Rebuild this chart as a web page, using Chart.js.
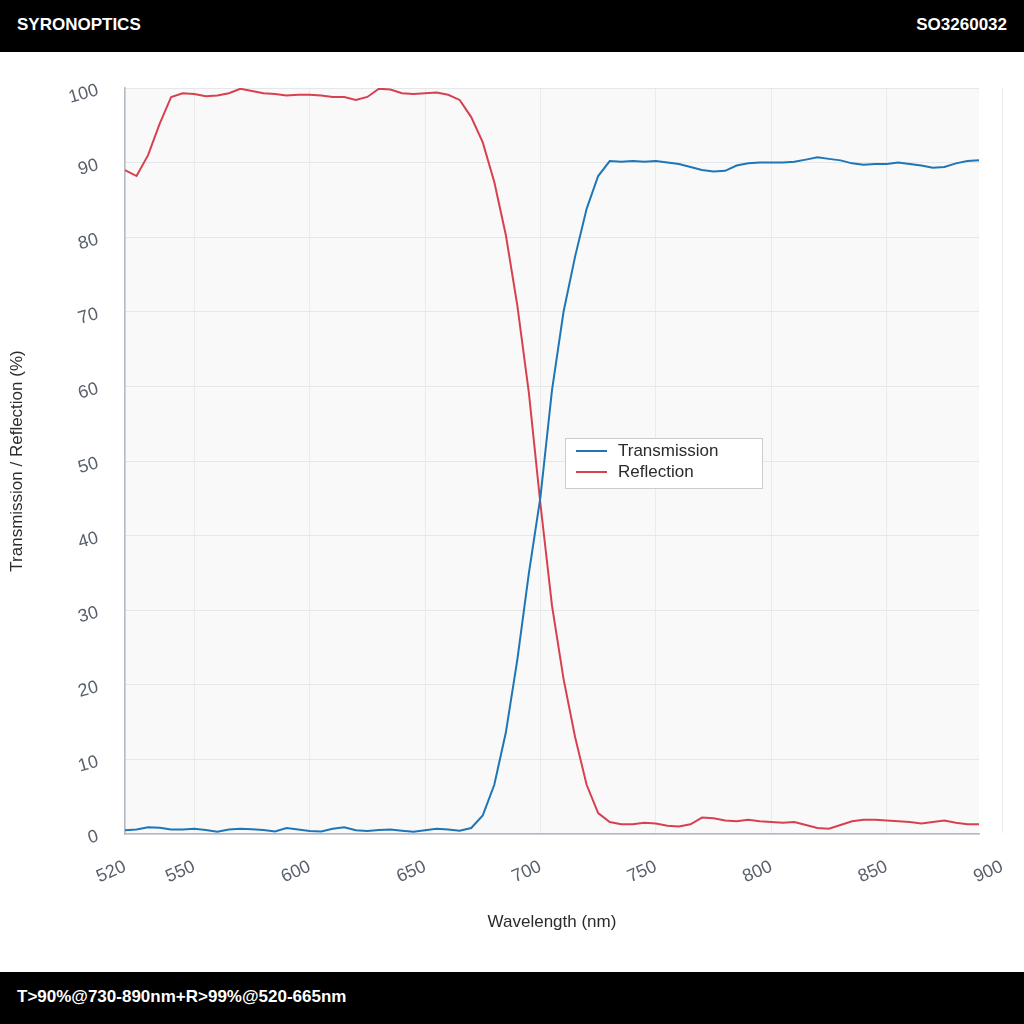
<!doctype html>
<html lang="en">
<head>
<meta charset="UTF-8">
<title>SO3260032</title>
<script src="https://cdn.jsdelivr.net/npm/chart.js"></script>
<style>
  html, body { margin: 0; padding: 0; background: #fff; }
  body { width: 1024px; height: 1024px; overflow: hidden; font-family: "Liberation Sans", Arial, sans-serif; }
  .bar { background: #000; color: #fff; height: 52px; display: flex; align-items: center; justify-content: space-between; padding: 0 17px 2px 17px; font-weight: bold; font-size: 17px; box-sizing: border-box; }
  #wrap { position: relative; width: 1024px; height: 920px; }
</style>
</head>
<body>
<div class="bar"><span>SYRONOPTICS</span><span>SO3260032</span></div>
<div id="wrap"><canvas id="chart"></canvas></div>
<div class="bar"><span>T&gt;90%@730-890nm+R&gt;99%@520-665nm</span></div>

<script>
// wavelength (nm), 5 nm steps
const wavelengths = [520,525,530,535,540,545,550,555,560,565,570,575,580,585,590,595,600,605,610,615,620,625,630,635,640,645,650,655,660,665,670,675,680,685,690,695,700,705,710,715,720,725,730,735,740,745,750,755,760,765,770,775,780,785,790,795,800,805,810,815,820,825,830,835,840,845,850,855,860,865,870,875,880,885,890];

const transmission = [0.5,0.6,0.9,0.85,0.6,0.6,0.7,0.55,0.3,0.6,0.7,0.65,0.55,0.35,0.8,0.6,0.4,0.35,0.7,0.9,0.5,0.4,0.55,0.6,0.45,0.3,0.5,0.7,0.6,0.45,0.8,2.5,6.6,13.6,23.4,35.0,45.2,59.5,70.0,77.4,83.8,88.2,90.2,90.1,90.2,90.1,90.2,90.0,89.8,89.4,89.0,88.8,88.9,89.6,89.9,90.0,90.0,90.0,90.1,90.4,90.7,90.5,90.3,89.9,89.7,89.8,89.8,90.0,89.8,89.6,89.3,89.4,89.9,90.2,90.3];

const reflection = [89.0,88.2,91.0,95.2,98.8,99.3,99.2,98.9,99.0,99.3,99.9,99.6,99.3,99.2,99.0,99.1,99.1,99.0,98.8,98.8,98.4,98.8,99.9,99.8,99.3,99.2,99.3,99.4,99.1,98.4,96.1,92.7,87.4,80.3,70.8,59.1,44.2,30.6,20.8,13.0,6.6,2.8,1.6,1.3,1.3,1.5,1.4,1.1,1.0,1.3,2.2,2.1,1.8,1.7,1.9,1.7,1.6,1.5,1.6,1.2,0.8,0.7,1.2,1.7,1.9,1.9,1.8,1.7,1.6,1.4,1.6,1.8,1.5,1.3,1.3];

const xTicks = [520,550,600,650,700,750,800,850,900];
const yTicks = [0,10,20,30,40,50,60,70,80,90,100];

const seriesNames = ['Transmission', 'Reflection'];
const seriesColors = ['#1f76b6', '#d8404f'];

const tickColor = '#57606c';
const tickFont = { family: '"Liberation Sans", Arial, sans-serif', size: 18 };

// plot background, only up to the last data point
const plotBackground = {
    id: 'plotBackground',
    beforeDraw(chart) {
        const { ctx, chartArea } = chart;
        ctx.save();
        ctx.fillStyle = '#f9f9fa';
        ctx.fillRect(chartArea.left, chartArea.top, chartArea.right - chartArea.left, chartArea.bottom - chartArea.top);
        ctx.restore();
    }
};

// rotated y tick labels
const yLabels = {
    id: 'yLabels',
    afterDraw(chart) {
        const { ctx, chartArea } = chart;
        const y = chart.scales.y;
        ctx.save();
        ctx.fillStyle = tickColor;
        ctx.font = tickFont.size + 'px ' + tickFont.family;
        ctx.textAlign = 'right';
        ctx.textBaseline = 'middle';
        yTicks.forEach(v => {
            ctx.save();
            ctx.translate(chartArea.left - 27, y.getPixelForValue(v) + 2);
            ctx.rotate(-16 * Math.PI / 180);
            ctx.fillText(String(v), 0, 0);
            ctx.restore();
        });
        ctx.restore();
    }
};

// legend box inside the plot
const innerLegend = {
    id: 'innerLegend',
    afterDraw(chart) {
        const { ctx } = chart;
        const bx = 565, by = 386, bw = 197, bh = 50;
        ctx.save();
        ctx.fillStyle = '#fff';
        ctx.fillRect(bx, by, bw, bh);
        ctx.strokeStyle = '#c9ccd1';
        ctx.lineWidth = 1;
        ctx.strokeRect(bx + 0.5, by + 0.5, bw, bh);
        ctx.font = '17px "Liberation Sans", Arial, sans-serif';
        ctx.textBaseline = 'middle';
        chart.data.datasets.forEach((ds, i) => {
            const ly = by + 13 + i * 21;
            ctx.strokeStyle = ds.borderColor;
            ctx.lineWidth = 2;
            ctx.beginPath();
            ctx.moveTo(bx + 11, ly);
            ctx.lineTo(bx + 42, ly);
            ctx.stroke();
            ctx.fillStyle = '#2b2b2b';
            ctx.fillText(ds.label, bx + 53, ly);
        });
        ctx.restore();
    }
};

const ctx = document.getElementById('chart').getContext('2d');
new Chart(ctx, {
    type: 'line',
    data: {
        datasets: [
            {
                label: seriesNames[0],
                data: wavelengths.map((w, i) => ({ x: w, y: transmission[i] })),
                borderColor: seriesColors[0],
                borderWidth: 2,
                pointRadius: 0,
                tension: 0
            },
            {
                label: seriesNames[1],
                data: wavelengths.map((w, i) => ({ x: w, y: reflection[i] })),
                borderColor: seriesColors[1],
                borderWidth: 2,
                pointRadius: 0,
                tension: 0
            }
        ]
    },
    options: {
        responsive: true,
        maintainAspectRatio: false,
        animation: false,
        layout: { padding: { left: 0, right: 45, top: 36, bottom: 0 } },
        plugins: {
            legend: { display: false },
            tooltip: { enabled: false }
        },
        scales: {
            x: {
                type: 'linear',
                min: 520,
                max: 890,
                afterBuildTicks: s => { s.ticks = xTicks.map(v => ({ value: v })); },
                afterFit: s => {
                    s.height = 138;
                    s.paddingLeft = 0;
                    s.paddingRight = 0;
                },
                ticks: {
                    autoSkip: false,
                    minRotation: 24,
                    maxRotation: 24,
                    padding: 22,
                    color: tickColor,
                    font: tickFont
                },
                grid: { color: '#ebebed', drawTicks: false },
                border: { color: '#b3bac4', width: 1.5 },
                title: {
                    display: true,
                    text: 'Wavelength (nm)',
                    color: '#2b2b2b',
                    font: { family: '"Liberation Sans", Arial, sans-serif', size: 17 },
                    padding: { top: 0, bottom: 39 }
                }
            },
            y: {
                min: 0,
                max: 100,
                afterBuildTicks: s => { s.ticks = yTicks.map(v => ({ value: v })); },
                afterFit: s => { s.width = 125; },
                ticks: { display: false },
                grid: { color: '#e6e7ea', drawTicks: false },
                border: { color: '#b3bac4', width: 1.5 },
                title: {
                    display: true,
                    text: 'Transmission / Reflection (%)',
                    color: '#2b2b2b',
                    font: { family: '"Liberation Sans", Arial, sans-serif', size: 17 },
                    padding: { top: 7, bottom: 0 }
                }
            }
        }
    },
    plugins: [plotBackground, yLabels, innerLegend]
});
</script>
</body>
</html>
